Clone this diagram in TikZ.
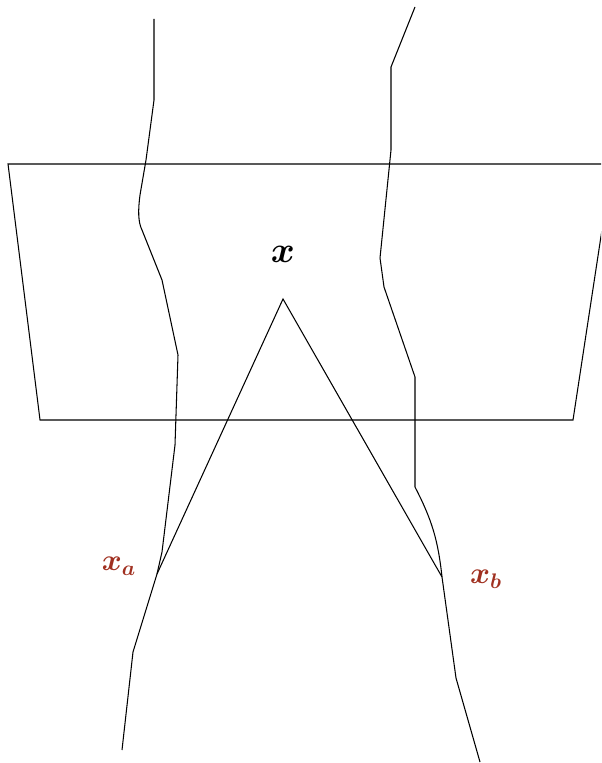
\documentclass[tikz,border=0pt]{standalone}
\usepackage{amsmath, amssymb}
\usepackage{bm}
\usepackage{xcolor}
\definecolor{labelred}{RGB}{160,48,32}

\begin{document}
\begin{tikzpicture}[x=0.02cm, y=-0.02cm, line width=0.6pt]
        \useasboundingbox (0,0) rectangle (601,763);

        % Define corners of the slab
        \coordinate (s1) at (8, 164);    % Top left
        \coordinate (s2) at (612, 164);  % Top right
        \coordinate (s3) at (573, 420);  % Bottom right
        \coordinate (s4) at (40, 420);   % Bottom left

        % Define the points of the wedge
        \coordinate (x0) at (283, 299);  % Apex
        \coordinate (xa) at (157, 574);  % Left end
        \coordinate (xb) at (442, 577);  % Right end

        % Draw the slab outline
        \begin{scope}
        \clip (0,0) rectangle (601,763);
        \draw (s1) -- (s2) -- (s3) -- (s4) -- cycle;
        \end{scope}

        % Draw left wandering line
        \draw (154, 19) -- (154, 100) -- (146, 160) -- (140, 195)
              .. controls (138, 210) and (138, 222) .. (142, 230)
              -- (162, 280) -- (178, 355) -- (175, 445)
              -- (162, 552) -- (xa) -- (133, 652) -- (122, 750);

        % Draw right wandering line
        \draw (415, 7) -- (391, 67) -- (391, 150) -- (380, 258)
              -- (384, 287) -- (415, 377) -- (415, 487)
              .. controls (432, 520) and (438, 540) .. (xb)
              -- (456, 678) -- (480, 762);

        % Draw the wedge
        \draw (xa) -- (x0) -- (xb);

        % Label points
        \node (lx) at (283, 254) {\huge$\bm{x}$};
        \node[text=labelred] (lxa) at (119, 566) {\LARGE$\bm{x_a}$};
        \node[text=labelred] (lxb) at (486, 579) {\LARGE$\bm{x_b}$};
    \end{tikzpicture}
\end{document}
